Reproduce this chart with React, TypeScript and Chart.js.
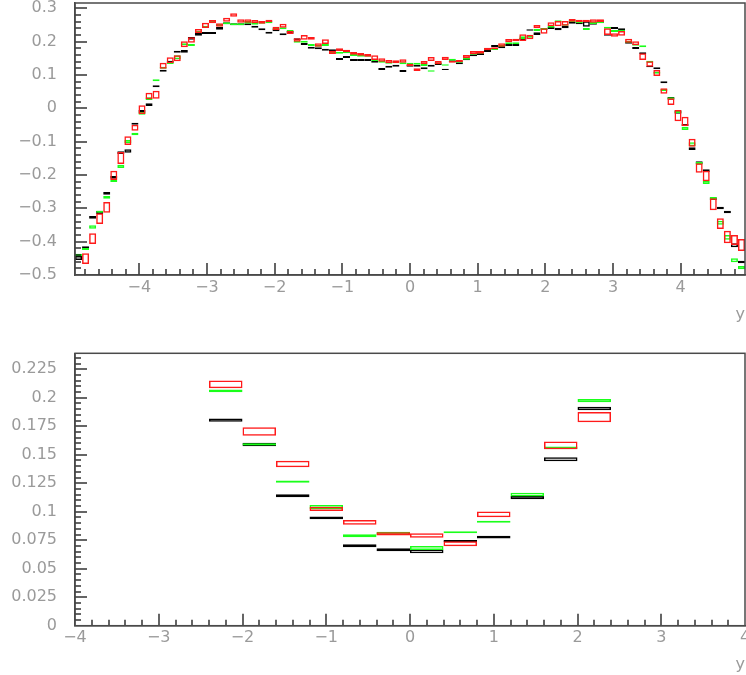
import React, { useEffect, useRef } from 'react';
import { Chart, registerables } from 'chart.js';

Chart.register(...registerables);

// ---------- Top panel: histogram binning ----------
const TOP_X_MIN = -4.95;
const TOP_X_MAX = 4.95;
const TOP_BIN_COUNT = 95;

const blackTop = [
  -0.449, -0.418, -0.327, -0.312, -0.255, -0.207, -0.133, -0.128, -0.046, -0.009,
  0.011, 0.066, 0.113, 0.14, 0.17, 0.171, 0.21, 0.222, 0.226, 0.226,
  0.24, 0.255, 0.252, 0.252, 0.252, 0.245, 0.237, 0.227, 0.234, 0.222,
  0.228, 0.207, 0.193, 0.182, 0.18, 0.176, 0.174, 0.148, 0.154, 0.145,
  0.145, 0.145, 0.14, 0.118, 0.125, 0.128, 0.112, 0.128, 0.128, 0.12,
  0.128, 0.133, 0.117, 0.141, 0.135, 0.147, 0.159, 0.163, 0.172, 0.187,
  0.184, 0.19, 0.19, 0.208, 0.235, 0.224, 0.238, 0.241, 0.238, 0.244,
  0.257, 0.255, 0.253, 0.255, 0.26, 0.221, 0.241, 0.236, 0.197, 0.181,
  0.165, 0.125, 0.12, 0.078, 0.03, -0.011, -0.05, -0.121, -0.163, -0.187,
  -0.271, -0.299, -0.311, -0.411, -0.461,
];
const blackTopErr = [
  0.006, 0.004, 0.004, 0.005, 0.004, 0.004, 0.004, 0.005, 0.003, 0.004,
  0.004, 0.003, 0.003, 0.003, 0.003, 0.004, 0.004, 0.004, 0.003, 0.003,
  0.004, 0.003, 0.003, 0.003, 0.003, 0.003, 0.003, 0.003, 0.003, 0.003,
  0.004, 0.003, 0.003, 0.003, 0.003, 0.003, 0.003, 0.003, 0.003, 0.003,
  0.003, 0.003, 0.003, 0.003, 0.003, 0.003, 0.003, 0.003, 0.003, 0.003,
  0.003, 0.003, 0.002, 0.003, 0.003, 0.003, 0.003, 0.003, 0.003, 0.003,
  0.004, 0.003, 0.003, 0.003, 0.002, 0.004, 0.003, 0.003, 0.004, 0.004,
  0.003, 0.003, 0.008, 0.004, 0.004, 0.003, 0.003, 0.004, 0.003, 0.003,
  0.003, 0.002, 0.003, 0.003, 0.004, 0.005, 0.003, 0.004, 0.004, 0.004,
  0.004, 0.004, 0.004, 0.006, 0.004,
];
const greenTop = [
  -0.44, -0.422, -0.356, -0.31, -0.267, -0.217, -0.174, -0.1, -0.077, -0.015,
  0.029, 0.084, 0.122, 0.136, 0.153, 0.192, 0.19, 0.229, 0.245, 0.262,
  0.25, 0.255, 0.252, 0.252, 0.258, 0.255, 0.258, 0.258, 0.238, 0.24,
  0.232, 0.2, 0.2, 0.19, 0.188, 0.19, 0.168, 0.167, 0.168, 0.16,
  0.158, 0.158, 0.145, 0.14, 0.137, 0.138, 0.135, 0.134, 0.134, 0.13,
  0.112, 0.135, 0.13, 0.146, 0.14, 0.149, 0.163, 0.168, 0.178, 0.178,
  0.188, 0.195, 0.195, 0.212, 0.215, 0.235, 0.238, 0.245, 0.261, 0.25,
  0.262, 0.258, 0.238, 0.256, 0.258, 0.242, 0.232, 0.233, 0.2, 0.191,
  0.186, 0.14, 0.107, 0.055, 0.03, -0.011, -0.06, -0.108, -0.165, -0.222,
  -0.27, -0.343, -0.387, -0.456, -0.478,
];
const greenTopErr = [
  0.004, 0.003, 0.005, 0.003, 0.004, 0.004, 0.005, 0.005, 0.004, 0.004,
  0.004, 0.003, 0.003, 0.003, 0.006, 0.003, 0.003, 0.003, 0.003, 0.003,
  0.003, 0.003, 0.003, 0.003, 0.004, 0.004, 0.004, 0.003, 0.003, 0.003,
  0.003, 0.003, 0.003, 0.003, 0.003, 0.003, 0.003, 0.003, 0.003, 0.003,
  0.003, 0.003, 0.003, 0.003, 0.003, 0.003, 0.003, 0.003, 0.003, 0.003,
  0.002, 0.003, 0.002, 0.003, 0.003, 0.003, 0.002, 0.004, 0.003, 0.003,
  0.003, 0.003, 0.003, 0.004, 0.003, 0.003, 0.003, 0.003, 0.003, 0.002,
  0.003, 0.003, 0.003, 0.003, 0.003, 0.003, 0.003, 0.003, 0.003, 0.003,
  0.003, 0.003, 0.003, 0.003, 0.003, 0.004, 0.005, 0.006, 0.004, 0.005,
  0.004, 0.006, 0.007, 0.006, 0.005,
];
const redTop = [
  null, -0.451, -0.391, -0.331, -0.297, -0.201, -0.149, -0.097, -0.058, -0.004,
  0.037, 0.041, 0.128, 0.144, 0.15, 0.192, 0.205, 0.232, 0.249, 0.26,
  0.25, 0.266, 0.28, 0.262, 0.262, 0.26, 0.258, 0.262, 0.24, 0.248,
  0.228, 0.205, 0.213, 0.21, 0.19, 0.2, 0.168, 0.176, 0.172, 0.165,
  0.162, 0.159, 0.152, 0.145, 0.14, 0.14, 0.142, 0.13, 0.116, 0.137,
  0.148, 0.137, 0.15, 0.14, 0.142, 0.155, 0.167, 0.168, 0.178, 0.18,
  0.19, 0.203, 0.205, 0.212, 0.214, 0.245, 0.232, 0.252, 0.254, 0.255,
  0.264, 0.262, 0.262, 0.262, 0.263, 0.23, 0.22, 0.225, 0.203, 0.195,
  0.155, 0.133, 0.106, 0.052, 0.02, -0.022, -0.039, -0.103, -0.179, -0.203,
  -0.288, -0.346, -0.386, -0.395, -0.41,
];
const redTopErr = [
  0, 0.016, 0.016, 0.016, 0.016, 0.014, 0.018, 0.013, 0.009, 0.013,
  0.01, 0.012, 0.009, 0.009, 0.009, 0.009, 0.008, 0.006, 0.008, 0.005,
  0.005, 0.006, 0.005, 0.005, 0.005, 0.005, 0.004, 0.004, 0.005, 0.006,
  0.005, 0.005, 0.007, 0.004, 0.005, 0.007, 0.005, 0.004, 0.004, 0.004,
  0.004, 0.004, 0.007, 0.005, 0.005, 0.004, 0.005, 0.004, 0.004, 0.005,
  0.006, 0.005, 0.005, 0.003, 0.003, 0.005, 0.005, 0.004, 0.004, 0.003,
  0.005, 0.005, 0.004, 0.01, 0.007, 0.005, 0.008, 0.006, 0.008, 0.007,
  0.004, 0.004, 0.004, 0.005, 0.004, 0.01, 0.005, 0.007, 0.006, 0.006,
  0.01, 0.008, 0.009, 0.008, 0.01, 0.017, 0.014, 0.012, 0.014, 0.016,
  0.018, 0.016, 0.019, 0.015, 0.018,
];

// ---------- Bottom panel ----------
const bottomBinCenters = [-2.2, -1.8, -1.4, -1.0, -0.6, -0.2, 0.2, 0.6, 1.0, 1.4, 1.8, 2.2];
const blackBottom = [0.1804, 0.159, 0.114, 0.0946, 0.0701, 0.0666, 0.0652, 0.0743, 0.0777, 0.1124, 0.146, 0.1906];
const blackBottomErr = [0.0014, 0.0015, 0.0013, 0.0012, 0.0013, 0.0013, 0.0017, 0.001, 0.0013, 0.0015, 0.0017, 0.0016];
const greenBottom = [0.206, 0.159, 0.1264, 0.104, 0.0789, 0.081, 0.0682, 0.082, 0.0912, 0.115, 0.156, 0.1974];
const greenBottomErr = [0.0012, 0.001, 0.0009, 0.0019, 0.0013, 0.0015, 0.0017, 0.0009, 0.0008, 0.0017, 0.0012, 0.0014];
const redBottom = [0.2117, 0.1704, 0.1419, 0.1025, 0.0907, 0.0806, 0.0792, 0.0719, 0.0976, null, 0.1582, 0.183];
const redBottomErr = [0.0034, 0.0037, 0.0029, 0.0019, 0.0021, 0.0014, 0.002, 0.0022, 0.0025, 0, 0.0034, 0.0045];

const FONT = { family: 'DejaVu Sans', size: 16 };
const LABEL_COLOR = '#9a9a9a';
const FRAME_COLOR = '#4a4a4a';
const TICK_COLOR = '#111111';

const isMult = (v: number, s: number) => Math.abs(v / s - Math.round(v / s)) < 1e-6;
const fmt = (v: number) => String(Number(v.toFixed(4))).replace('-', '\u2212');

function boxes(centers: number[], vals: (number | null)[], errs: number[]) {
  const out: any[] = [];
  centers.forEach((c, i) => {
    const v = vals[i];
    if (v === null || v === undefined) return;
    out.push({ x: c, y: [v - errs[i], v + errs[i]] });
  });
  return out;
}

function datasetsFor(centers: number[], r: any, re: any, g: any, ge: any, b: any, be: any) {
  const common = {
    xAxisID: 'xd',
    yAxisID: 'y',
    backgroundColor: 'rgba(0,0,0,0)',
    borderWidth: 1.5,
    borderSkipped: false,
    grouped: false,
    categoryPercentage: 1,
    barPercentage: 1,
    inflateAmount: 0,
  };
  return [
    { ...common, label: 'red', data: boxes(centers, r, re), borderColor: '#ff1a1a' },
    { ...common, label: 'green', data: boxes(centers, g, ge), borderColor: '#1aff1a' },
    { ...common, label: 'black', data: boxes(centers, b, be), borderColor: '#000000' },
  ];
}

// Inward major/minor tick marks from the scales' own tick values, then the frame around the plot area.
function makeFramePlugin(xMajor: number, yMajor: number) {
  return {
    id: 'rootFrame',
    afterDraw(chart: any) {
      const ctx = chart.ctx;
      const area = chart.chartArea;
      const xs = chart.scales.x;
      const ys = chart.scales.y;
      ctx.save();
      ctx.setTransform(1, 0, 0, 1, 0, 0);
      ctx.globalAlpha = 1;
      ctx.setLineDash([]);
      ctx.strokeStyle = TICK_COLOR;
      ctx.lineWidth = 1.3;
      for (const t of xs.ticks) {
        const px = Math.round(xs.getPixelForValue(t.value));
        if (px < area.left + 1 || px > area.right - 1) continue;
        const len = isMult(t.value, xMajor) ? 12 : 6;
        ctx.beginPath();
        ctx.moveTo(px, area.bottom);
        ctx.lineTo(px, area.bottom - len);
        ctx.stroke();
      }
      for (const t of ys.ticks) {
        const py = Math.round(ys.getPixelForValue(t.value));
        if (py < area.top + 1 || py > area.bottom - 1) continue;
        const len = isMult(t.value, yMajor) ? 12 : 6;
        ctx.beginPath();
        ctx.moveTo(area.left, py);
        ctx.lineTo(area.left + len, py);
        ctx.stroke();
      }
      ctx.strokeStyle = FRAME_COLOR;
      ctx.lineWidth = 1.5;
      ctx.strokeRect(area.left, area.top, area.right - area.left, area.bottom - area.top);
      ctx.restore();
    },
  };
}

function makeOptions(cfg: any) {
  const { xMin, xMax, yMin, yMax, yStep, yMajor, padTop, axisH, titlePadB, xPad } = cfg;
  const zeroPad = (s: any) => {
    s.paddingLeft = 0;
    s.paddingRight = 0;
    s.paddingTop = 0;
    s.paddingBottom = 0;
  };
  return {
    responsive: false,
    animation: false,
    devicePixelRatio: 1,
    events: [],
    layout: { padding: { top: padTop, right: 1, bottom: 0, left: 0 } },
    plugins: {
      legend: { display: false },
      tooltip: { enabled: false },
    },
    scales: {
      xd: { type: 'linear', display: false, min: xMin, max: xMax, offset: false },
      x: {
        type: 'linear',
        position: 'bottom',
        min: xMin,
        max: xMax,
        offset: false,
        afterFit: (s: any) => {
          s.height = axisH;
          zeroPad(s);
        },
        grid: { drawOnChartArea: false, offset: false, drawTicks: false },
        border: { display: true, color: FRAME_COLOR, width: 1.5 },
        ticks: {
          stepSize: 0.2,
          autoSkip: false,
          includeBounds: false,
          maxRotation: 0,
          minRotation: 0,
          padding: xPad,
          color: LABEL_COLOR,
          font: FONT,
          callback: (v: number) => (isMult(v, 1) ? fmt(v) : ''),
        },
        title: {
          display: true,
          text: 'y',
          align: 'end',
          color: LABEL_COLOR,
          font: FONT,
          padding: { top: 0, bottom: titlePadB },
        },
      },
      y: {
        type: 'linear',
        position: 'left',
        min: yMin,
        max: yMax,
        afterFit: (s: any) => {
          s.width = 75;
          zeroPad(s);
        },
        grid: { drawOnChartArea: false, drawTicks: false },
        border: { display: true, color: FRAME_COLOR, width: 1.5 },
        ticks: {
          stepSize: yStep,
          autoSkip: false,
          includeBounds: false,
          padding: 18,
          color: LABEL_COLOR,
          font: FONT,
          callback: (v: number) => (isMult(v, yMajor) ? fmt(v) : ''),
        },
      },
    },
  };
}

function Panel(props: { height: number; config: any }) {
  const ref = useRef<HTMLCanvasElement>(null);
  useEffect(() => {
    if (!ref.current) return;
    const chart = new Chart(ref.current, props.config);
    return () => chart.destroy();
  }, []);
  return <canvas ref={ref} width={746} height={props.height} style={{ display: 'block', width: 746, height: props.height }} />;
}

export default function App() {
  const topCenters: number[] = [];
  const topWidth = (TOP_X_MAX - TOP_X_MIN) / TOP_BIN_COUNT;
  for (let k = 0; k < TOP_BIN_COUNT; k++) topCenters.push(TOP_X_MIN + topWidth * (k + 0.5));

  const topConfig = {
    type: 'bar',
    data: { datasets: datasetsFor(topCenters, redTop, redTopErr, greenTop, greenTopErr, blackTop, blackTopErr) },
    options: makeOptions({
      xMin: TOP_X_MIN,
      xMax: TOP_X_MAX,
      yMin: -0.5,
      yMax: 0.316,
      yStep: 0.02,
      yMajor: 0.1,
      padTop: 3,
      axisH: 63,
      titlePadB: 13.4,
      xPad: 3.5,
    }),
    plugins: [makeFramePlugin(1, 0.1)],
  };
  const bottomConfig = {
    type: 'bar',
    data: {
      datasets: datasetsFor(bottomBinCenters, redBottom, redBottomErr, greenBottom, greenBottomErr, blackBottom, blackBottomErr),
    },
    options: makeOptions({
      xMin: -4,
      xMax: 4,
      yMin: 0,
      yMax: 0.239,
      yStep: 0.005,
      yMajor: 0.025,
      padTop: 15.3,
      axisH: 49.3,
      titlePadB: 0.9,
      xPad: 2.5,
    }),
    plugins: [makeFramePlugin(1, 0.025)],
  };

  return (
    <div style={{ position: 'absolute', left: 0, top: 0, width: 746, height: 675, background: '#fff' }}>
      <Panel height={338} config={topConfig} />
      <Panel height={337} config={bottomConfig} />
    </div>
  );
}
